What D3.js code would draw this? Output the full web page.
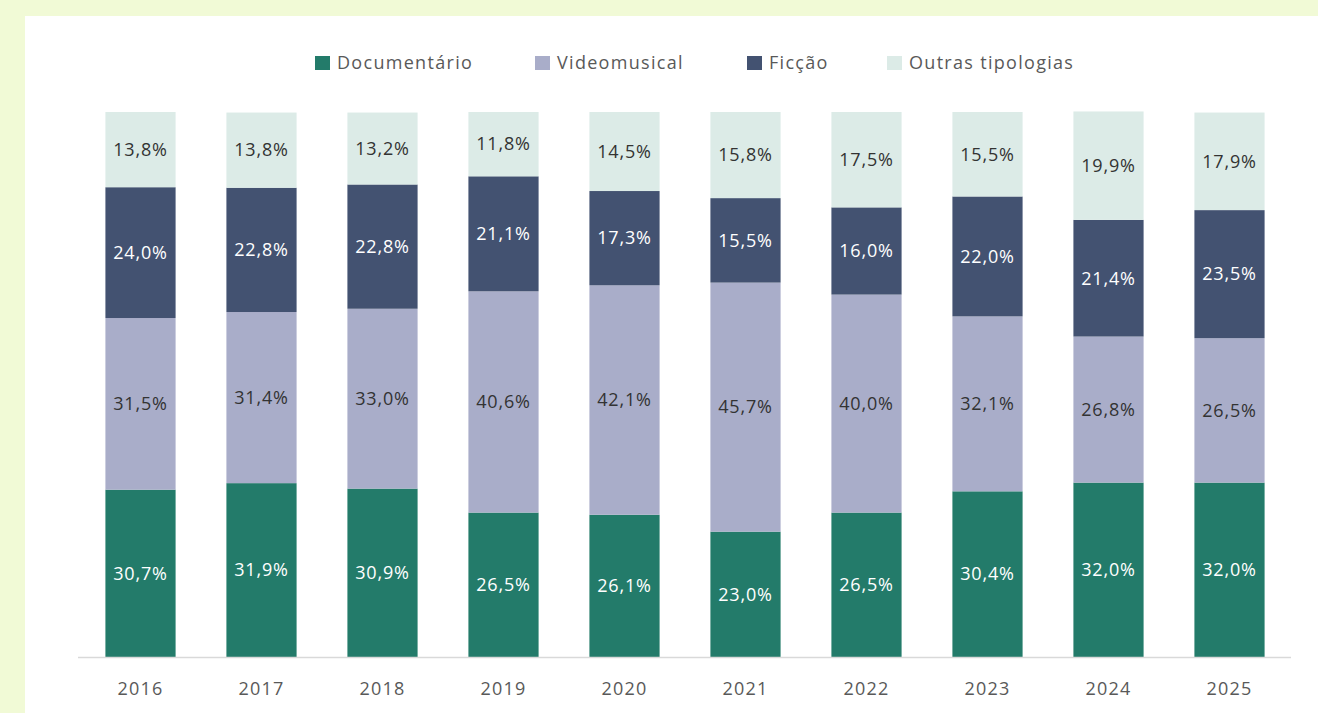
<!DOCTYPE html>
<html>
<head>
<meta charset="utf-8">
<script src="https://cdn.jsdelivr.net/npm/d3@7"></script>
<style>
  body { margin: 0; background: #f1fad6; }
  svg { display: block; }
</style>
</head>
<body>
<svg id="chart" width="1318" height="713"></svg>
<script>
// data
var anos = ["2016","2017","2018","2019","2020","2021","2022","2023","2024","2025"];
var series = ["Documentário","Videomusical","Ficção","Outras tipologias"];
var documentario = [30.7, 31.9, 30.9, 26.5, 26.1, 23.0, 26.5, 30.4, 32.0, 32.0];
var videomusical = [31.5, 31.4, 33.0, 40.6, 42.1, 45.7, 40.0, 32.1, 26.8, 26.5];
var ficcao       = [24.0, 22.8, 22.8, 21.1, 17.3, 15.5, 16.0, 22.0, 21.4, 23.5];
var outras       = [13.8, 13.8, 13.2, 11.8, 14.5, 15.8, 17.5, 15.5, 19.9, 17.9];

var cores = ["#237b6a", "#a9adc9", "#435271", "#dcebe7"];
var corTexto = ["#ffffff", "#333333", "#ffffff", "#333333"];

var rows = anos.map(function(a, i) {
  return {ano: a, "Documentário": documentario[i], "Videomusical": videomusical[i],
          "Ficção": ficcao[i], "Outras tipologias": outras[i]};
});

var svg = d3.select("#chart");

// white panel
svg.append("rect")
  .attr("x", 25).attr("y", 16)
  .attr("width", 1293).attr("height", 697)
  .attr("fill", "#ffffff");

var x = d3.scaleBand().domain(anos).range([80, 1290]).paddingInner(0.42).paddingOuter(0.21);
var y = d3.scaleLinear().domain([0, 100]).range([657, 112]);
var cor = d3.scaleOrdinal().domain(series).range(cores);

var stack = d3.stack().keys(series);
var layers = stack(rows);

var g = svg.append("g");

var grupos = g.selectAll(".serie")
  .data(layers)
  .enter().append("g")
  .attr("class", "serie")
  .attr("fill", function(d) { return cor(d.key); });

grupos.selectAll("rect")
  .data(function(d) { return d; })
  .enter().append("rect")
  .attr("x", function(d) { return x(d.data.ano); })
  .attr("y", function(d) { return y(d[1]); })
  .attr("width", x.bandwidth())
  .attr("height", function(d) { return y(d[0]) - y(d[1]); });

// labels
grupos.each(function(s, si) {
  d3.select(this).selectAll("text")
    .data(s)
    .enter().append("text")
    .attr("x", function(d) { return x(d.data.ano) + x.bandwidth() / 2; })
    .attr("y", function(d) { return (y(d[0]) + y(d[1])) / 2; })
    .attr("dy", "0.35em")
    .attr("text-anchor", "middle")
    .attr("fill", corTexto[si])
    .style("font-family", "'Open Sans', sans-serif")
    .style("font-size", "18px")
    .style("letter-spacing", "0.8px")
    .text(function(d) { return (d[1] - d[0]).toFixed(1).replace(".", ",") + "%"; });
});

// x axis
var xAxis = d3.axisBottom(x).tickSize(0).tickPadding(25);
var ax = svg.append("g")
  .attr("transform", "translate(0,657)")
  .call(xAxis);
ax.select(".domain").attr("stroke", "#d9d9d9").attr("stroke-width", 1.5)
  .attr("d", "M78,0.5H1291");
ax.selectAll("text")
  .attr("fill", "#595959")
  .style("font-family", "'Open Sans', sans-serif")
  .style("font-size", "18px")
  .style("letter-spacing", "1.2px");

// legend
var legX = [315, 535, 747, 887];
var leg = svg.selectAll(".leg")
  .data(series)
  .enter().append("g")
  .attr("class", "leg")
  .attr("transform", function(d, i) { return "translate(" + legX[i] + ",56)"; });
leg.append("rect")
  .attr("width", 15).attr("height", 14)
  .attr("fill", function(d) { return cor(d); });
leg.append("text")
  .attr("x", 22).attr("y", 7).attr("dy", "0.35em")
  .attr("fill", "#595959")
  .style("font-family", "'Open Sans', sans-serif")
  .style("font-size", "18px")
  .style("letter-spacing", "1.3px")
  .text(function(d) { return d; });
</script>
</body>
</html>
